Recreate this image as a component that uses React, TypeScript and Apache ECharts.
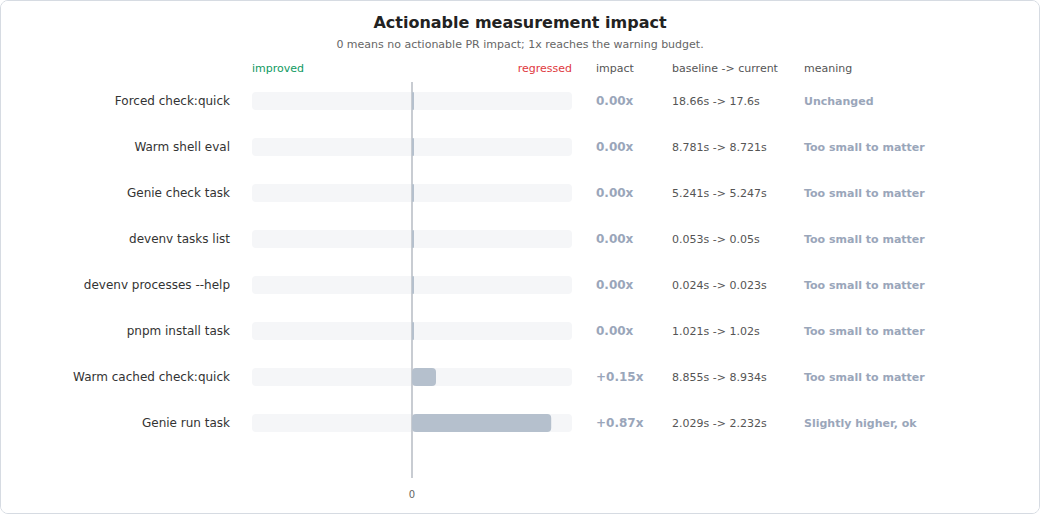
import { useEffect, useRef } from 'react';
import * as echarts from 'echarts';

const labels = [
  'Forced check:quick',
  'Warm shell eval',
  'Genie check task',
  'devenv tasks list',
  'devenv processes --help',
  'pnpm install task',
  'Warm cached check:quick',
  'Genie run task',
];
const impact = [0, 0, 0, 0, 0, 0, 0.15, 0.87];
const baseline = ['18.66s', '8.781s', '5.241s', '0.053s', '0.024s', '1.021s', '8.855s', '2.029s'];
const current = ['17.6s', '8.721s', '5.247s', '0.05s', '0.023s', '1.02s', '8.934s', '2.232s'];
const meaning = [
  'Unchanged',
  'Too small to matter',
  'Too small to matter',
  'Too small to matter',
  'Too small to matter',
  'Too small to matter',
  'Too small to matter',
  'Slightly higher, ok',
];

const FONT = 'DejaVu Sans';

const fmtImpact = (v: number) => (v > 0 ? '+' : '') + v.toFixed(2) + 'x';

export default function App() {
  const chartRef = useRef<HTMLDivElement>(null);

  useEffect(() => {
    document.body.style.margin = '0';
    if (!chartRef.current) return;
    const chart = echarts.init(chartRef.current, null, { renderer: 'svg' });

    const option: echarts.EChartsOption = {
      animation: false,
      backgroundColor: '#fff',
      textStyle: { fontFamily: FONT },
      title: {
        text: 'Actionable measurement impact',
        subtext: '0 means no actionable PR impact; 1x reaches the warning budget.',
        left: 'center',
        top: 8,
        itemGap: 9,
        textStyle: { fontFamily: FONT, fontSize: 16, fontWeight: 'bold', color: '#222' },
        subtextStyle: { fontFamily: FONT, fontSize: 11, color: '#666' },
      },
      graphic: [
        { type: 'text', x: 251, y: 67, style: { text: 'improved', fill: '#109a5f', font: `11px "${FONT}"`, verticalAlign: 'middle' } },
        { type: 'text', x: 571, y: 67, style: { text: 'regressed', fill: '#e0393e', font: `11px "${FONT}"`, align: 'right', verticalAlign: 'middle' } },
        { type: 'text', x: 595, y: 67, style: { text: 'impact', fill: '#555', font: `11px "${FONT}"`, verticalAlign: 'middle' } },
        { type: 'text', x: 671, y: 67, style: { text: 'baseline -> current', fill: '#555', font: `11px "${FONT}"`, verticalAlign: 'middle' } },
        { type: 'text', x: 803, y: 67, style: { text: 'meaning', fill: '#555', font: `11px "${FONT}"`, verticalAlign: 'middle' } },
      ],
      grid: [
        { left: 251, width: 320, top: 77, height: 368 },
        { left: 251, width: 320, top: 81, height: 396 },
      ],
      xAxis: [
        {
          gridIndex: 0,
          type: 'value',
          min: -1,
          max: 1,
          show: false,
        },
        {
          gridIndex: 1,
          type: 'value',
          min: -1,
          max: 1,
          interval: 1,
          axisLine: { show: false },
          axisTick: { show: false },
          splitLine: { show: false },
          axisLabel: {
            margin: 11,
            fontSize: 10,
            color: '#666',
            formatter: (v: number) => (v === 0 ? '0' : ''),
          },
        },
      ],
      yAxis: [
        {
          gridIndex: 0,
          type: 'category',
          data: labels,
          inverse: true,
          axisLine: { show: false },
          axisTick: { show: false },
          axisLabel: { margin: 22, fontSize: 12, color: '#333' },
        },
        {
          gridIndex: 0,
          type: 'category',
          position: 'right',
          data: labels.map((_, i) => i),
          inverse: true,
          axisLine: { show: false },
          axisTick: { show: false },
          axisLabel: {
            margin: 24,
            formatter: (v: string) => {
              const i = Number(v);
              return `{imp|${fmtImpact(impact[i])}}{base|${baseline[i]} -> ${current[i]}}{mean|${meaning[i]}}`;
            },
            rich: {
              imp: { width: 76, fontSize: 12, fontWeight: 'bold', color: '#9aa6ba', fontFamily: FONT },
              base: { width: 132, fontSize: 11, color: '#555', fontFamily: FONT },
              mean: { fontSize: 11, fontWeight: 'bold', color: '#9aa6ba', fontFamily: FONT },
            },
          },
        },
        {
          gridIndex: 1,
          type: 'value',
          min: 0,
          max: 1,
          show: false,
        },
      ],
      series: [
        {
          type: 'bar',
          xAxisIndex: 0,
          yAxisIndex: 0,
          data: labels.map(() => 0),
          barWidth: 18,
          z: 1,
          itemStyle: { color: 'transparent' },
          showBackground: true,
          backgroundStyle: { color: '#f5f6f8', borderRadius: 4 },
          silent: true,
        },
        {
          type: 'line',
          xAxisIndex: 1,
          yAxisIndex: 2,
          data: [
            [0, 0],
            [0, 1],
          ],
          symbol: 'none',
          z: 2,
          lineStyle: { color: '#c8ccd2', width: 2 },
          silent: true,
        },
        {
          type: 'bar',
          xAxisIndex: 0,
          yAxisIndex: 0,
          data: impact,
          barWidth: 18,
          barGap: '-100%',
          barMinHeight: 2,
          z: 3,
          itemStyle: { color: '#b5c0cd', borderRadius: 4 },
        },
      ],
    };

    chart.setOption(option);

    return () => {
      chart.dispose();
    };
  }, []);

  return (
    <div
      style={{
        width: 1040,
        height: 514,
        boxSizing: 'border-box',
        border: '1px solid #d6dbe2',
        borderRadius: 8,
        overflow: 'hidden',
        background: '#fff',
      }}
    >
      <div ref={chartRef} style={{ width: '100%', height: '100%' }} />
    </div>
  );
}
